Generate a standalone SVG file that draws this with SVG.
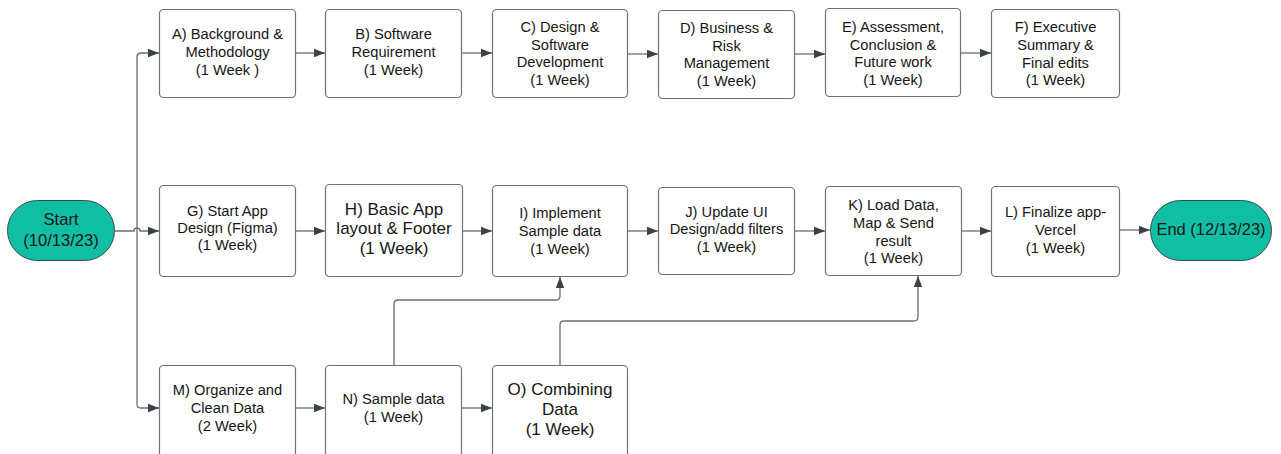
<svg xmlns="http://www.w3.org/2000/svg" width="1281" height="454" viewBox="0 0 1281 454">
  <style>
    .box { fill: #ffffff; stroke: #6f7276; stroke-width: 1.2; }
    .term { fill: #0fbea3; stroke: #3d4a48; stroke-width: 1; }
    .lbl { font-family: "Liberation Sans", Arial, sans-serif; font-size: 14.7px; fill: #161616; text-anchor: middle; }
    .big { font-size: 17px; }
    .term-lbl { font-size: 16.6px; }
    .end-lbl { font-size: 16.5px; }
    .wire { fill: none; stroke: #696d73; stroke-width: 1.3; }
  </style>
  <defs>
    <marker id="arrow" markerUnits="userSpaceOnUse" markerWidth="12" markerHeight="10" refX="11" refY="5" orient="auto">
      <path d="M0,0.8 L11,5 L0,9.2 Z" fill="#3b4148"/>
    </marker>
  </defs>

  <!-- connectors -->
  <g id="connectors">
    <!-- start fan-out -->
    <path class="wire" d="M115,231 H134 a3,3 0 0 1 6,0 H159" marker-end="url(#arrow)"/>
    <path class="wire" d="M137,231 V57 Q137,53 141,53 H159" marker-end="url(#arrow)"/>
    <path class="wire" d="M137,231 V404 Q137,408 141,408 H159" marker-end="url(#arrow)"/>
    <!-- report row -->
    <path class="wire" d="M296,53 H325" marker-end="url(#arrow)"/>
    <path class="wire" d="M462,53 H492" marker-end="url(#arrow)"/>
    <path class="wire" d="M628,54 H658" marker-end="url(#arrow)"/>
    <path class="wire" d="M795,54 H825" marker-end="url(#arrow)"/>
    <path class="wire" d="M961,53 H991" marker-end="url(#arrow)"/>
    <!-- app row -->
    <path class="wire" d="M296,231 H325" marker-end="url(#arrow)"/>
    <path class="wire" d="M462,231 H492" marker-end="url(#arrow)"/>
    <path class="wire" d="M628,231 H658" marker-end="url(#arrow)"/>
    <path class="wire" d="M795,231 H825" marker-end="url(#arrow)"/>
    <path class="wire" d="M961,231 H991" marker-end="url(#arrow)"/>
    <path class="wire" d="M1120,230 H1150" marker-end="url(#arrow)"/>
    <!-- data row -->
    <path class="wire" d="M296,408 H325" marker-end="url(#arrow)"/>
    <path class="wire" d="M462,408 H492" marker-end="url(#arrow)"/>
    <!-- data feeding the app -->
    <path class="wire" d="M394,366 V304 Q394,300 398,300 H556 Q560,300 560,296 V277" marker-end="url(#arrow)"/>
    <path class="wire" d="M560,366 V325 Q560,321 564,321 H914 Q918,321 918,317 V276" marker-end="url(#arrow)"/>
  </g>

  <!-- terminals -->
  <g id="start">
    <rect class="term" x="7.5" y="200.5" width="107" height="60" rx="30"/>
    <text class="lbl term-lbl" x="61" y="225">Start</text>
    <text class="lbl term-lbl" x="61" y="246">(10/13/23)</text>
  </g>
  <g id="end">
    <rect class="term" x="1150.5" y="200.5" width="121" height="60" rx="30"/>
    <text class="lbl end-lbl" x="1211" y="235">End (12/13/23)</text>
  </g>

  <!-- report tasks -->
  <g id="taskA">
    <rect class="box" x="159.5" y="9.5" width="136" height="88" rx="4"/>
    <text class="lbl" x="227.5" y="39">A) Background &amp;</text>
    <text class="lbl" x="227.5" y="57">Methodology</text>
    <text class="lbl" x="227.5" y="75">(1 Week )</text>
  </g>
  <g id="taskB">
    <rect class="box" x="325.5" y="9.5" width="136" height="88" rx="4"/>
    <text class="lbl" x="393.5" y="39">B) Software</text>
    <text class="lbl" x="393.5" y="57">Requirement</text>
    <text class="lbl" x="393.5" y="75">(1 Week)</text>
  </g>
  <g id="taskC">
    <rect class="box" x="492.5" y="9.5" width="135" height="88" rx="4"/>
    <text class="lbl" x="560" y="32">C) Design &amp;</text>
    <text class="lbl" x="560" y="49.5">Software</text>
    <text class="lbl" x="560" y="67">Development</text>
    <text class="lbl" x="560" y="84.5">(1 Week)</text>
  </g>
  <g id="taskD">
    <rect class="box" x="658.5" y="10.5" width="136" height="88" rx="4"/>
    <text class="lbl" x="726.5" y="33">D) Business &amp;</text>
    <text class="lbl" x="726.5" y="50.5">Risk</text>
    <text class="lbl" x="726.5" y="68">Management</text>
    <text class="lbl" x="726.5" y="86">(1 Week)</text>
  </g>
  <g id="taskE">
    <rect class="box" x="825.5" y="8.5" width="135" height="88" rx="4"/>
    <text class="lbl" x="893" y="32">E) Assessment,</text>
    <text class="lbl" x="893" y="49.5">Conclusion &amp;</text>
    <text class="lbl" x="893" y="67">Future work</text>
    <text class="lbl" x="893" y="84.5">(1 Week)</text>
  </g>
  <g id="taskF">
    <rect class="box" x="991.5" y="9.5" width="128" height="88" rx="4"/>
    <text class="lbl" x="1055.5" y="32">F) Executive</text>
    <text class="lbl" x="1055.5" y="50">Summary &amp;</text>
    <text class="lbl" x="1055.5" y="67.5">Final edits</text>
    <text class="lbl" x="1055.5" y="85">(1 Week)</text>
  </g>

  <!-- app tasks -->
  <g id="taskG">
    <rect class="box" x="159.5" y="185.5" width="136" height="91" rx="4"/>
    <text class="lbl" x="227.5" y="216">G) Start App</text>
    <text class="lbl" x="227.5" y="233">Design (Figma)</text>
    <text class="lbl" x="227.5" y="250">(1 Week)</text>
  </g>
  <g id="taskH">
    <rect class="box" x="325.5" y="184.5" width="137" height="92" rx="4"/>
    <text class="lbl big" x="394" y="215">H) Basic App</text>
    <text class="lbl big" x="394" y="234">layout &amp; Footer</text>
    <text class="lbl big" x="394" y="254">(1 Week)</text>
  </g>
  <g id="taskI">
    <rect class="box" x="492.5" y="185.5" width="135" height="91" rx="4"/>
    <text class="lbl" x="560" y="218">I) Implement</text>
    <text class="lbl" x="560" y="236">Sample data</text>
    <text class="lbl" x="560" y="254">(1 Week)</text>
  </g>
  <g id="taskJ">
    <rect class="box" x="658.5" y="187.5" width="136" height="87" rx="4"/>
    <text class="lbl" x="726.5" y="217">J) Update UI</text>
    <text class="lbl" x="726.5" y="234">Design/add filters</text>
    <text class="lbl" x="726.5" y="252">(1 Week)</text>
  </g>
  <g id="taskK">
    <rect class="box" x="825.5" y="186.5" width="136" height="89" rx="4"/>
    <text class="lbl" x="893.5" y="210">K) Load Data,</text>
    <text class="lbl" x="893.5" y="227.5">Map &amp; Send</text>
    <text class="lbl" x="893.5" y="245.5">result</text>
    <text class="lbl" x="893.5" y="263">(1 Week)</text>
  </g>
  <g id="taskL">
    <rect class="box" x="991.5" y="186.5" width="128" height="90" rx="4"/>
    <text class="lbl" x="1055.5" y="217">L) Finalize app-</text>
    <text class="lbl" x="1055.5" y="234.5">Vercel</text>
    <text class="lbl" x="1055.5" y="252.5">(1 Week)</text>
  </g>

  <!-- data tasks -->
  <g id="taskM">
    <rect class="box" x="159.5" y="365.5" width="136" height="95" rx="4"/>
    <text class="lbl" x="227.5" y="395">M) Organize and</text>
    <text class="lbl" x="227.5" y="413">Clean Data</text>
    <text class="lbl" x="227.5" y="431">(2 Week)</text>
  </g>
  <g id="taskN">
    <rect class="box" x="325.5" y="365.5" width="136" height="95" rx="4"/>
    <text class="lbl" x="393.5" y="404">N) Sample data</text>
    <text class="lbl" x="393.5" y="422">(1 Week)</text>
  </g>
  <g id="taskO">
    <rect class="box" x="492.5" y="365.5" width="135" height="95" rx="4"/>
    <text class="lbl big" x="560" y="395">O) Combining</text>
    <text class="lbl big" x="560" y="415">Data</text>
    <text class="lbl big" x="560" y="435">(1 Week)</text>
  </g>
</svg>
